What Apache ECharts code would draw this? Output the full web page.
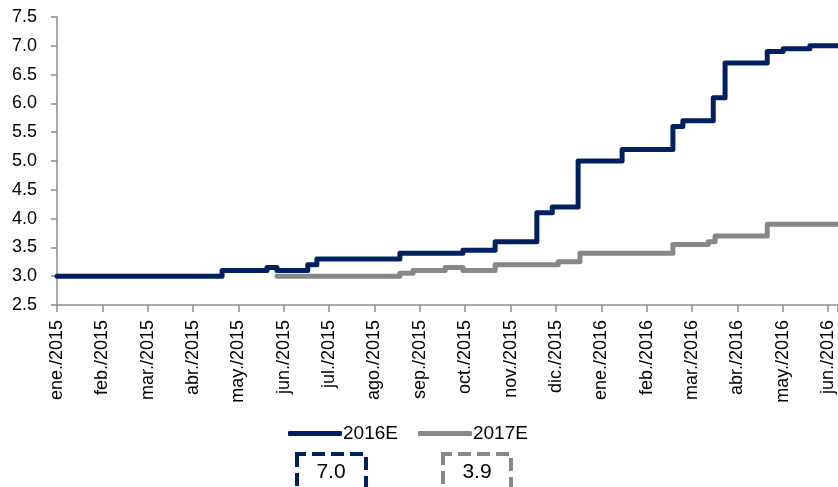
<!doctype html>
<html lang="es">
<head>
    <title>2016E / 2017E</title>
    <meta charset="utf-8">
    <script type="text/javascript" src="https://cdn.jsdelivr.net/npm/echarts@6/dist/echarts.min.js"></script>
    <style>
        html, body { margin: 0; padding: 0; background: #ffffff; }
        #main { width: 838px; height: 487px; }
    </style>
</head>
<body>
<div id="main"></div>
<script type="text/javascript">
    // month tick labels (x position 0 = ene./2015, 1 = feb./2015 ...)
    var monthLabels = ['ene./2015', 'feb./2015', 'mar./2015', 'abr./2015', 'may./2015', 'jun./2015',
        'jul./2015', 'ago./2015', 'sep./2015', 'oct./2015', 'nov./2015', 'dic./2015',
        'ene./2016', 'feb./2016', 'mar./2016', 'abr./2016', 'may./2016', 'jun./2016'];

    // 2016E: points where the expectation changes (month position, value)
    var x2016 = [0, 3.64, 4.63, 4.85, 5.53, 5.73, 7.56, 8.95, 9.66, 10.58, 10.92, 11.49,
        12.46, 13.58, 13.80, 14.47, 14.73, 15.66, 16.01, 16.60, 17.22];
    var y2016 = [3.0, 3.1, 3.15, 3.1, 3.2, 3.3, 3.4, 3.45, 3.6, 4.1, 4.2, 5.0,
        5.2, 5.6, 5.7, 6.1, 6.7, 6.9, 6.95, 7.0, 7.0];

    // 2017E
    var x2017 = [4.85, 7.56, 7.85, 8.56, 8.95, 9.66, 11.05, 11.53, 13.58, 14.36, 14.51, 15.66, 17.22];
    var y2017 = [3.0, 3.05, 3.1, 3.15, 3.1, 3.2, 3.25, 3.4, 3.55, 3.6, 3.7, 3.9, 3.9];

    var seriesNames = ['2016E', '2017E'];
    var seriesColors = ['#002060', '#878787'];

    function pairs(xs, ys) {
        var out = [];
        for (var i = 0; i < xs.length; i++) out.push([xs[i], ys[i]]);
        return out;
    }

    var font = 'Liberation Sans, Arial, sans-serif';
    var axisColor = '#8c8c8c';

    var chartDom = document.getElementById('main');
    var myChart = echarts.init(chartDom, null, {renderer: 'canvas'});

    var last2016 = y2016[y2016.length - 1].toFixed(1);
    var last2017 = y2017[y2017.length - 1].toFixed(1);

    var option = {
        animation: false,
        backgroundColor: '#ffffff',
        grid: {left: 57, right: 0, top: 17, bottom: 182},
        legend: {
            data: seriesNames,
            left: 283,
            top: 419,
            icon: 'roundRect',
            itemWidth: 54,
            itemHeight: 5,
            itemGap: 20,
            textStyle: {fontFamily: font, fontSize: 19, color: '#000000', padding: [0, 0, 0, -4]}
        },
        xAxis: {
            type: 'value',
            min: 0,
            max: 17.22,
            interval: 1,
            splitLine: {show: false},
            axisLine: {lineStyle: {color: axisColor, width: 1.5}},
            axisTick: {length: 7, lineStyle: {color: axisColor, width: 1.5}},
            axisLabel: {
                rotate: 90,
                margin: 15,
                fontFamily: font,
                fontSize: 18,
                color: '#000000',
                formatter: function (v) {
                    return Math.abs(v - Math.round(v)) < 1e-6 ? monthLabels[Math.round(v)] : '';
                }
            }
        },
        yAxis: {
            type: 'value',
            min: 2.5,
            max: 7.5,
            interval: 0.5,
            splitLine: {show: false},
            axisLine: {show: true, lineStyle: {color: axisColor, width: 1.5}},
            axisTick: {show: true, length: 6, lineStyle: {color: axisColor, width: 1.5}},
            axisLabel: {
                margin: 20,
                fontFamily: font,
                fontSize: 18,
                color: '#000000',
                formatter: function (v) { return v.toFixed(1); }
            }
        },
        series: [
            {
                name: seriesNames[0],
                type: 'line',
                step: 'end',
                showSymbol: false,
                data: pairs(x2016, y2016),
                itemStyle: {color: seriesColors[0]},
                lineStyle: {color: seriesColors[0], width: 5, cap: 'round', join: 'round'},
                z: 3
            },
            {
                name: seriesNames[1],
                type: 'line',
                step: 'end',
                showSymbol: false,
                data: pairs(x2017, y2017),
                itemStyle: {color: seriesColors[1]},
                lineStyle: {color: seriesColors[1], width: 5, cap: 'round', join: 'round'},
                z: 2
            }
        ],
        graphic: [
            {
                type: 'rect',
                shape: {x: 297, y: 454, width: 69, height: 40},
                style: {fill: 'none', stroke: seriesColors[0], lineWidth: 4, lineDash: [13, 6], lineDashOffset: 4}
            },
            {
                type: 'text',
                x: 331, y: 472,
                style: {text: last2016, font: '21px ' + font, fill: '#000000', align: 'center', verticalAlign: 'middle'}
            },
            {
                type: 'rect',
                shape: {x: 443, y: 454, width: 68, height: 40},
                style: {fill: 'none', stroke: seriesColors[1], lineWidth: 4, lineDash: [13, 6], lineDashOffset: 4}
            },
            {
                type: 'text',
                x: 477, y: 472,
                style: {text: last2017, font: '21px ' + font, fill: '#000000', align: 'center', verticalAlign: 'middle'}
            }
        ]
    };

    option && myChart.setOption(option);
</script>
</body>
</html>
